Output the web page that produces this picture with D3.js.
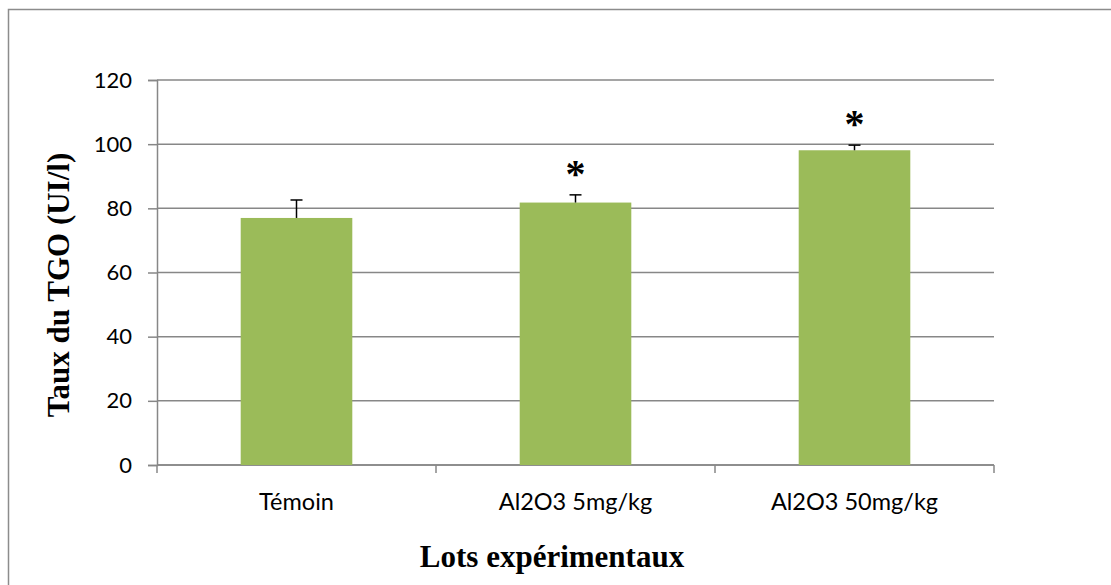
<!DOCTYPE html>
<html>
<head>
<meta charset="utf-8">
<script src="https://cdn.jsdelivr.net/npm/d3@7"></script>
<style>
  html, body { margin: 0; padding: 0; background: #fff; }
  svg { display: block; }
</style>
</head>
<body>
<svg id="chart" width="1111" height="585"></svg>
<script>
// Mean TGO level per experimental group, with the upper error bar (SD)
const categories = ["Témoin", "Al2O3 5mg/kg", "Al2O3 50mg/kg"];
const means = [77, 81.8, 98.1];
const errors = [5.6, 2.4, 1.6];
const significant = [false, true, true];
const yTicks = [0, 20, 40, 60, 80, 100, 120];

const svg = d3.select("#chart");
const W = 1111, H = 585;
const margin = { left: 157, right: W - 994, top: 80, bottom: H - 465 };

// outer frame of the chart area
svg.append("rect")
  .attr("x", 8.5).attr("y", 9.5)
  .attr("width", W + 20).attr("height", H + 20)
  .attr("fill", "#fff")
  .attr("stroke", "#8c8c8c")
  .attr("stroke-width", 1.5);

const x = d3.scaleBand()
  .domain(categories)
  .range([margin.left, W - margin.right])
  .paddingInner(0.6)
  .paddingOuter(0.3);

const y = d3.scaleLinear()
  .domain([0, 120])
  .range([H - margin.bottom, margin.top]);

const gridColor = "#878787";

// horizontal gridlines
svg.append("g")
  .selectAll("line")
  .data(yTicks)
  .join("line")
  .attr("x1", margin.left).attr("x2", W - margin.right)
  .attr("y1", d => y(d)).attr("y2", d => y(d))
  .attr("stroke", gridColor)
  .attr("stroke-width", 1.5);

// y axis
const yAxis = svg.append("g")
  .attr("transform", `translate(${margin.left},0)`)
  .call(d3.axisLeft(y).tickValues(yTicks).tickSize(9).tickPadding(16));
yAxis.select(".domain").attr("stroke", gridColor).attr("stroke-width", 1.5);
yAxis.selectAll(".tick line").attr("stroke", gridColor).attr("stroke-width", 1.5);
yAxis.selectAll(".tick text")
  .attr("fill", "#000")
  .style("font-family", "Lato, 'Open Sans', sans-serif")
  .style("font-size", "22px");

// x axis: category boundaries as tick marks
const bounds = d3.range(categories.length + 1)
  .map(i => margin.left + i * (W - margin.right - margin.left) / categories.length);
svg.append("line")
  .attr("x1", margin.left).attr("x2", W - margin.right)
  .attr("y1", y(0)).attr("y2", y(0))
  .attr("stroke", gridColor).attr("stroke-width", 1.5);
svg.append("g")
  .selectAll("line")
  .data(bounds)
  .join("line")
  .attr("x1", d => d).attr("x2", d => d)
  .attr("y1", y(0)).attr("y2", y(0) + 8)
  .attr("stroke", gridColor).attr("stroke-width", 1.5);

svg.append("g")
  .selectAll("text")
  .data(categories)
  .join("text")
  .attr("x", d => x(d) + x.bandwidth() / 2)
  .attr("y", 510)
  .attr("text-anchor", "middle")
  .style("font-family", "Lato, 'Open Sans', sans-serif")
  .style("font-size", "23.5px")
  .text(d => d);

// bars
svg.append("g")
  .selectAll("rect")
  .data(categories)
  .join("rect")
  .attr("x", d => x(d))
  .attr("width", x.bandwidth())
  .attr("y", (d, i) => y(means[i]))
  .attr("height", (d, i) => y(0) - y(means[i]))
  .attr("fill", "#9bbb59");

// upper error bars
const eb = svg.append("g").attr("stroke", "#000").attr("stroke-width", 1.5);
categories.forEach((c, i) => {
  const cx = x(c) + x.bandwidth() / 2;
  eb.append("line")
    .attr("x1", cx).attr("x2", cx)
    .attr("y1", y(means[i])).attr("y2", y(means[i] + errors[i]));
  eb.append("line")
    .attr("x1", cx - 6).attr("x2", cx + 6)
    .attr("y1", y(means[i] + errors[i])).attr("y2", y(means[i] + errors[i]));
});

// significance markers above the error bars
svg.append("g")
  .selectAll("text")
  .data(categories.filter((c, i) => significant[i]))
  .join("text")
  .attr("x", d => x(d) + x.bandwidth() / 2)
  .attr("y", d => {
    const i = categories.indexOf(d);
    return y(means[i] + errors[i]) - 8;
  })
  .attr("text-anchor", "middle")
  .style("font-family", "'Liberation Serif', 'Times New Roman', serif")
  .style("font-weight", "bold")
  .style("font-size", "40px")
  .text("*");

// axis titles
svg.append("text")
  .attr("transform", "translate(69,285) rotate(-90)")
  .attr("text-anchor", "middle")
  .style("font-family", "'Liberation Serif', 'Times New Roman', serif")
  .style("font-weight", "bold")
  .style("font-size", "31px")
  .text("Taux du TGO (UI/l)");

svg.append("text")
  .attr("x", 552)
  .attr("y", 567)
  .attr("text-anchor", "middle")
  .style("font-family", "'Liberation Serif', 'Times New Roman', serif")
  .style("font-weight", "bold")
  .style("font-size", "31px")
  .text("Lots expérimentaux");
</script>
</body>
</html>
